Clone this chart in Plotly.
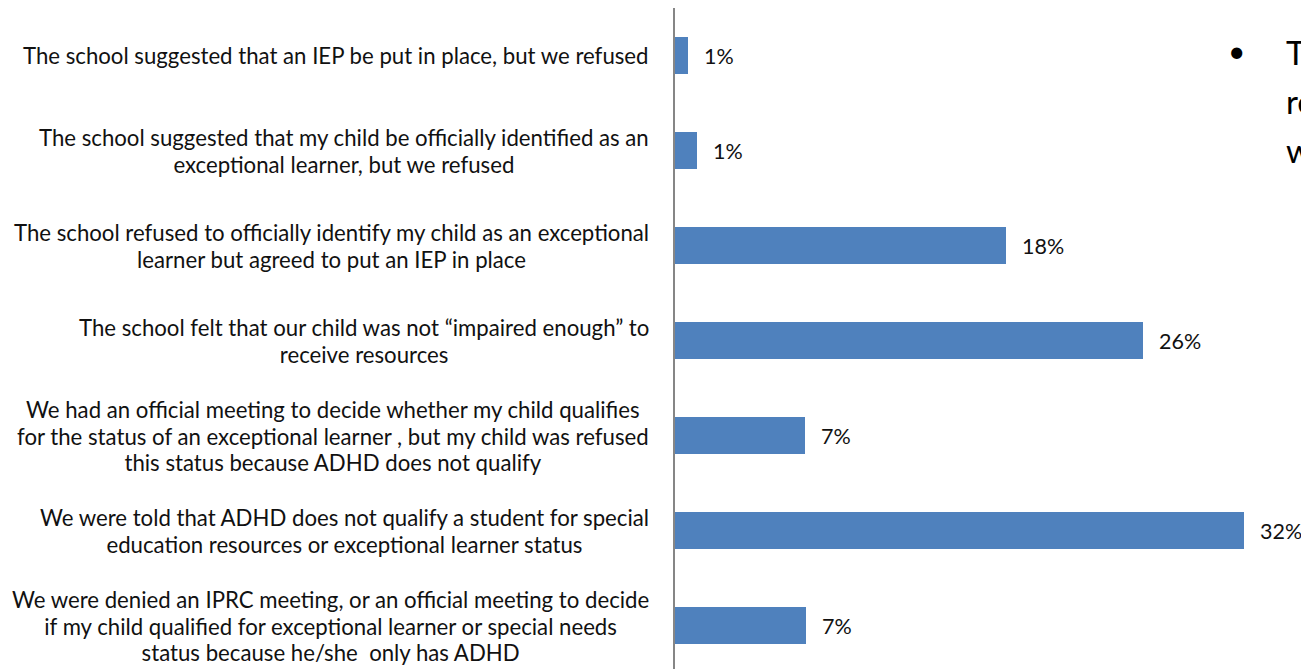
import plotly.graph_objects as go

categories = [
    "The school suggested that an IEP be put in place, but we refused",
    "The school suggested that my child be officially identified as an<br>exceptional learner, but we refused",
    "The school refused to officially identify my child as an exceptional<br>learner but agreed to put an IEP in place",
    "The school felt that our child was not \u201cimpaired enough\u201d to<br>receive resources",
    "We had an official meeting to decide whether my child qualifies<br>for the status of an exceptional learner , but my child was refused<br>this status because ADHD does not qualify",
    "We were told that ADHD does not qualify a student for special<br>education resources or exceptional learner status",
    "We were denied an IPRC meeting, or an official meeting to decide<br>if my child qualified for exceptional learner or special needs<br>status because he/she  only has ADHD",
]
values = [0.7, 1.2, 18.4, 26.0, 7.2, 31.6, 7.3]
value_labels = ["1%", "1%", "18%", "26%", "7%", "32%", "7%"]
side_lines = ["Th", "re", "w"]

OFF = 8                      # default body margin of the html page
W, H = 1309 - OFF, 669 - OFF
L, T = 675 - OFF, 0
plot_w = W - L
plot_h = H - T
step = 95.0
FONT = "Lato"
TXT = "#111111"

ypos = list(range(len(categories)))

fig = go.Figure()
fig.add_trace(go.Bar(
    x=values, y=ypos, orientation="h",
    marker=dict(color="#4F81BD", line=dict(width=0)),
    width=0.39, hoverinfo="skip",
))


def px_x(page_x):
    return (page_x - OFF - L) / plot_w


def px_y(page_y):
    return 1 - (page_y - OFF - T) / plot_h


def styled(text, size):
    return "<br>".join(
        f"<span style='font-size:{size}px'>{ln}</span>" for ln in text.split("<br>")
    )


annotations = []
for i, (c, v, lab) in enumerate(zip(categories, values, value_labels)):
    annotations.append(dict(
        x=px_x(651), xref="paper", y=i, yref="y",
        text=styled(c, 22.2), xanchor="right", yanchor="middle", align="center",
        showarrow=False, font=dict(family=FONT, size=20.4, color=TXT),
    ))
    annotations.append(dict(
        x=v, xref="x", y=i, yref="y", text=lab,
        xanchor="left", yanchor="middle", xshift=14, showarrow=False,
        font=dict(family=FONT, size=21.5, color=TXT),
    ))

# cut-off bullet text box on the right
annotations.append(dict(
    x=px_x(1226), xref="paper", y=px_y(50), yref="paper",
    text="\u2022", xanchor="left", yanchor="middle", showarrow=False,
    font=dict(family=FONT, size=30, color="#000000"),
))
for k, s in enumerate(side_lines):
    annotations.append(dict(
        x=px_x(1284), xref="paper", y=px_y(52 + 49 * k), yref="paper",
        text=s, xanchor="left", yanchor="middle", showarrow=False,
        font=dict(family=FONT, size=33, color="#000000"),
    ))

fig.update_layout(
    width=W, height=H,
    margin=dict(l=L, r=0, t=T, b=0, pad=0),
    paper_bgcolor="white", plot_bgcolor="white",
    showlegend=False,
    bargap=0,
    xaxis=dict(range=[0, plot_w / 18.0], visible=False, fixedrange=True),
    yaxis=dict(range=[-0.5 + plot_h / step, -0.5], showticklabels=False,
               showgrid=False, zeroline=False, showline=True,
               linecolor="#868686", linewidth=1.5, ticks="", fixedrange=True),
    annotations=annotations,
)

fig.write_html(
    "out.html",
    post_script="document.documentElement.style.overflow='hidden';"
                "document.body.style.overflow='hidden';",
)
